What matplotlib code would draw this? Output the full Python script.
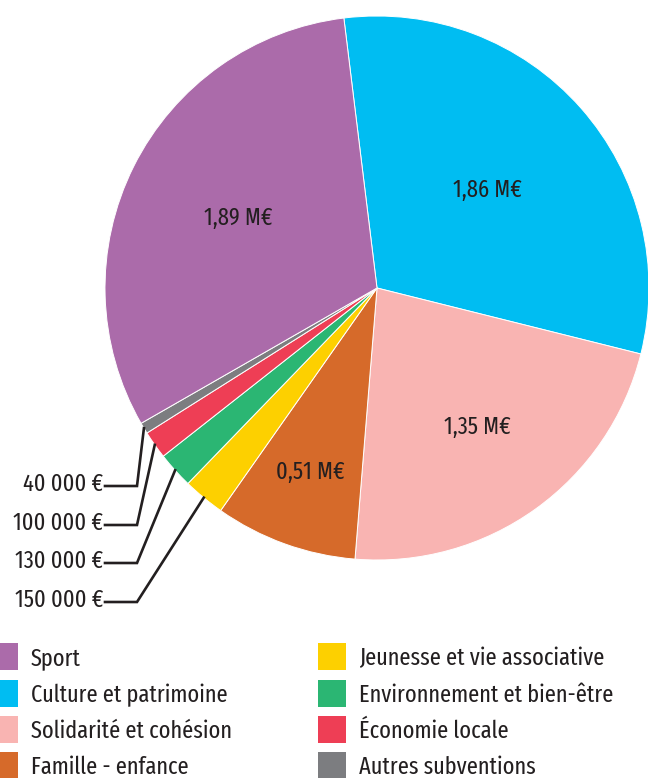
import numpy as np
import matplotlib
matplotlib.use('Agg')
import matplotlib.pyplot as plt
from matplotlib.patches import Rectangle

plt.rcParams['font.family'] = ['Fira Sans Extra Condensed', 'Fira Sans Condensed',
                               'Roboto Condensed', 'DejaVu Sans']

# Subventions by theme (M€), in clockwise order starting from the top
categories = ['Culture et patrimoine', 'Solidarité et cohésion', 'Famille - enfance',
              'Jeunesse et vie associative', 'Environnement et bien-être',
              'Économie locale', 'Autres subventions', 'Sport']
values = [1.86, 1.35, 0.51, 0.15, 0.13, 0.10, 0.04, 1.89]
colors = ['#00BDF2', '#F9B4B2', '#D66A2A', '#FDD000', '#2BB673',
          '#EE3E55', '#7C7D80', '#AB6BAA']

inside_labels = {'Sport': '1,89 M€', 'Culture et patrimoine': '1,86 M€',
                 'Solidarité et cohésion': '1,35 M€', 'Famille - enfance': '0,51 M€'}
inside_radius = {'Sport': 0.57, 'Culture et patrimoine': 0.54,
                 'Solidarité et cohésion': 0.63, 'Famille - enfance': 0.72}
outside_labels = ['40 000 €', '100 000 €', '130 000 €', '150 000 €']
outside_cats = ['Autres subventions', 'Économie locale',
                'Environnement et bien-être', 'Jeunesse et vie associative']

legend_left = ['Sport', 'Culture et patrimoine', 'Solidarité et cohésion', 'Famille - enfance']
legend_right = ['Jeunesse et vie associative', 'Environnement et bien-être',
                'Économie locale', 'Autres subventions']

W, H = 648, 778
TXT = '#231F20'
FS = 17.5

fig = plt.figure(figsize=(W / 100, H / 100), dpi=100)
ax = fig.add_axes([0, 0, 1, 1])

cx, cy, R = 377, H - 288, 272
start = 97
wedges, _ = ax.pie(values, colors=colors, startangle=start, counterclock=False,
                   center=(cx, cy), radius=R,
                   wedgeprops=dict(edgecolor='white', linewidth=0.7))

ax.set_xlim(0, W)
ax.set_ylim(0, H)
ax.set_aspect('equal')
ax.axis('off')

# mid angle of each wedge
mid = {}
for cat, w in zip(categories, wedges):
    mid[cat] = np.deg2rad((w.theta1 + w.theta2) / 2)

for cat, txt in inside_labels.items():
    r = inside_radius[cat] * R
    ax.text(cx + r * np.cos(mid[cat]), cy + r * np.sin(mid[cat]), txt,
            ha='center', va='center', fontsize=FS, color=TXT)

# leader lines for the small slices
line_y = [486, 525, 563, 602]
for txt, cat, ly in zip(outside_labels, outside_cats, line_y):
    a = mid[cat]
    ex, ey = cx + R * np.cos(a), cy + R * np.sin(a)
    ax.plot([ex, 137, 105], [ey, H - ly, H - ly], color=TXT, lw=1.9,
            solid_joinstyle='miter')
    ax.text(103, H - ly - 5, txt, ha='right', va='baseline',
            fontsize=FS, color=TXT)

# legend
lookup = dict(zip(categories, colors))
row_y = [656, 693, 729, 765]
for col_x, names in [(-10, legend_left), (318, legend_right)]:
    for name, ry in zip(names, row_y):
        ax.add_patch(Rectangle((col_x, H - ry - 13.5), 28, 27, color=lookup[name], lw=0))
        ax.text(col_x + 41, H - ry - 9, name, ha='left', va='baseline',
                fontsize=FS, color=TXT)

fig.savefig('out.png', dpi=100)
